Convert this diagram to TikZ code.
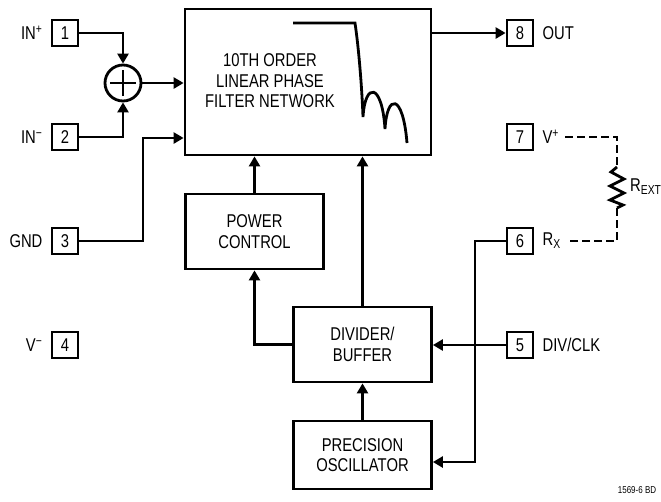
\documentclass[tikz,border=0pt]{standalone}
\usepackage{fontspec}
\setmainfont{Liberation Sans}[FakeStretch=0.8]
\usepackage{tikz}
\usetikzlibrary{positioning,calc,arrows.meta}
\newcommand{\blockfont}{\fontsize{18.5}{20.5}\selectfont}
\tikzstyle{wire} = [line width=2.8pt]
\tikzstyle{arrow} = [line width=2.8pt,-{Triangle[length=10pt,width=11pt]}]
\tikzstyle{block} = [draw, line width=2.8pt, align=center, font=\blockfont, minimum width=138pt, minimum height=75pt]
\tikzstyle{pin} = [draw, line width=2.8pt, minimum size=26pt, inner sep=0pt, font=\blockfont]
\tikzstyle{pinlabel} = [inner sep=1pt, font=\blockfont]
\tikzstyle{ext} = [line width=2.8pt, dash pattern=on 8pt off 4pt]

\begin{document}
\begin{tikzpicture}[x=1pt,y=-1pt]
    \useasboundingbox (0,0) rectangle (661,501);

    % Blocos
    \node[block, minimum width=246pt, minimum height=146pt] (filter) at (308,82) {};
    \node[align=center, font=\blockfont] (filtertext) at (270,81) {10TH ORDER\\LINEAR PHASE\\FILTER NETWORK};
    \node[block] (power) at (254.5,231.5) {POWER\\CONTROL};
    \node[block] (divider) at (362.5,344.5) {DIVIDER/\\BUFFER};
    \node[block, minimum height=68pt] (osc) at (362.5,455) {PRECISION\\OSCILLATOR};

    % Curva do filtro
    \draw[wire] (293,23) -- (355,23) .. controls (359,50) and (362,90) .. (363,117)
        .. controls (365,82) and (382,82) .. (385,129)
        .. controls (387,93) and (403,93) .. (407,143);

    % Somador
    \node[circle, draw, wire, minimum size=36pt] (sum) at (123,83) {};
    \draw[wire] (sum.center) ++(-13,0) -- ++(26,0);
    \draw[wire] (sum.center) ++(0,-13) -- ++(0,26);

    % Pinos
    \node[pin] (p1) at (65,33) {1};
    \node[pin] (p2) at (65,137) {2};
    \node[pin] (p3) at (65,241) {3};
    \node[pin] (p4) at (65,345) {4};
    \node[pin] (p8) at (520,33) {8};
    \node[pin] (p7) at (520,137) {7};
    \node[pin] (p6) at (520,241) {6};
    \node[pin] (p5) at (520,345) {5};

    % Etiquetas
    \node[pinlabel, left=7pt of p1] (lin1) {IN\textsuperscript{+}};
    \node[pinlabel, left=7pt of p2] (lin2) {IN\textsuperscript{−}};
    \node[pinlabel, left=7pt of p3] (lgnd) {GND};
    \node[pinlabel, left=7pt of p4] (lvneg) {V\textsuperscript{−}};
    \node[pinlabel, right=7pt of p8] (lout) {OUT};
    \node[pinlabel, right=7pt of p7] (lvpos) {V\textsuperscript{+}};
    \node[pinlabel, right=7pt of p6] (lrx) {R\textsubscript{X}};
    \node[pinlabel, right=7pt of p5] (ldiv) {DIV/CLK};
    \node[pinlabel, anchor=west] (lrext) at (629,187) {R\textsubscript{EXT}};
    \node[font=\fontsize{10}{10}\selectfont] (code) at (637,490) {1569-6 BD};

    % Ligações
    \draw[arrow] (p1) -| (sum);
    \draw[arrow] (p2) -| (sum);
    \draw[arrow] (sum) -- (sum -| filter.west);
    \coordinate (gndin) at (143,138);
    \draw[arrow] (p3) -| (gndin) -- (gndin -| filter.west);
    \draw[arrow] (filter.east |- p8) -- (p8);
    \draw[arrow] (power) -- (power |- filter.south);
    \draw[arrow] (divider) -- (divider |- filter.south);
    \draw[arrow] (divider) -| (power);
    \draw[arrow] (osc) -- (divider);
    \draw[arrow] (p5) -- (p5 -| divider.east);
    \coordinate (rxturn) at (475,462);
    \draw[arrow] (p6) -| (rxturn) -- (rxturn -| osc.east);

    % Resistor externo
    \coordinate (vtop) at ($(lvpos.east)+(5,0)$);
    \coordinate (rxend) at ($(lrx.east |- p6)+(5,0)$);
    \coordinate (rtop) at (617,167);
    \coordinate (rbot) at (617,208);
    \draw[ext] (vtop) -- (vtop -| rtop) -- (rtop);
    \draw[wire, line join=miter] (rtop) -- (611,172) -- (624,179) -- (610,186) -- (624,193) -- (610,200) -- (623,205) -- (rbot);
    \draw[ext] (rbot) -- (rbot |- rxend) -- (rxend);
\end{tikzpicture}
\end{document}
